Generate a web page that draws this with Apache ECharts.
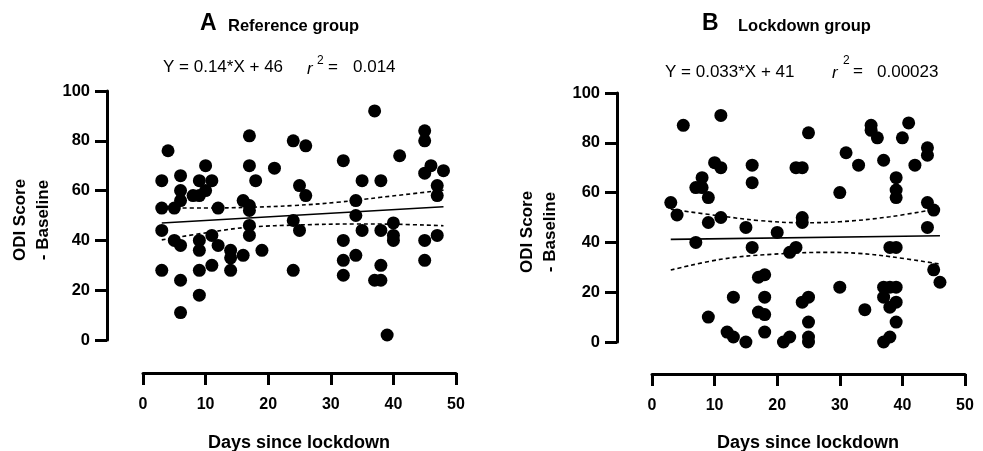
<!DOCTYPE html>
<html>
<head>
<meta charset="utf-8">
<script src="https://cdn.jsdelivr.net/npm/echarts@6/dist/echarts.min.js"></script>
<style>
html,body{margin:0;padding:0;background:#fff;}
#c{width:983px;height:451px;}
</style>
</head>
<body>
<div id="c"></div>
<script>
// ---- Data ----
var xTicks = [0, 10, 20, 30, 40, 50];
var yTicks = [0, 20, 40, 60, 80, 100];

var refDays = [4,3,6,10,9,11,6,8,9,10,6,3,5,12,17,17,18,21,16,17,17,24,26,25,26,24,32,35,34,34,37,38,41,45,45,46,45,48,47,47,40,3,5,6,9,9,11,12,14,14,14,16,19,17,17,3,6,9,11,9,6,25,24,32,32,32,34,35,38,38,37,38,40,40,39,45,45,47];
var refODI  = [76,64,66,70,64,64,60,58,58,60,56,53,53,53,82,70,64,69,56,54,52,80,78,62,58,48,72,64,56,50,92,64,74,84,80,70,67,68,62,58,47,44,40,38,40,36,42,38,36,33,28,34,36,46,42,28,24,28,30,18,11,44,28,40,32,26,34,44,44,30,24,24,42,40,2,40,32,42];

var lockDays = [5,11,25,35,35,36,41,40,44,44,31,33,37,42,39,39,39,30,10,11,16,16,23,24,8,7,8,9,3,4,11,24,24,44,45,9,15,20,7,16,22,23,38,39,44,45,46,17,18,30,37,38,39,37,39,38,34,39,37,38,13,18,17,18,9,12,13,15,18,21,22,24,25,25,25,25];
var lockODI  = [87,91,84,87,85,82,88,82,78,75,76,71,73,71,66,61,58,60,72,70,71,64,70,70,66,62,62,58,56,51,50,50,48,56,53,48,46,44,40,38,36,38,38,38,46,29,24,26,27,22,22,22,22,18,16,14,13,8,0,2,18,18,12,11,10,4,2,0,4,0,2,16,18,8,2,0];

// fitted line and 95% bands [x, y]
var refFit   = [[3,47],[48,53.5]];
var refUpper = [[3,53],[10,53],[17,53.3],[24,54],[31,55.3],[38,57.3],[48,60.2]];
var refLower = [[3,40.2],[11,43.4],[17,45.3],[25,46.2],[34,46.6],[40,46.5],[48,45.9]];

var lockFit   = [[3,41.2],[46,42.7]];
var lockUpper = [[3,53.3],[11,50.6],[17,48.8],[24,47.9],[30,48.3],[38,50.3],[46,53.7]];
var lockLower = [[3,28.9],[11,33.2],[19,35.2],[28,36],[33,35.6],[38,34.3],[46,31.3]];

var titles = ['Reference group', 'Lockdown group'];
var letters = ['A', 'B'];
var eqs = ['Y = 0.14*X + 46', 'Y = 0.033*X + 41'];
var r2s = ['0.014', '0.00023'];
var xName = 'Days since lockdown';
var yName = 'ODI Score\n- Baseline';

// ---- Build ----
function pairs(xs, ys){ var o=[]; for (var i=0;i<xs.length;i++) o.push([xs[i], ys[i]]); return o; }
var FF = '"Liberation Sans", Arial, Helvetica, sans-serif';

function xAx(gi, off){
  return {gridIndex:gi, type:'value', min:xTicks[0], max:xTicks[xTicks.length-1], interval:10, offset:off,
    axisLine:{show:true, onZero:false, lineStyle:{color:'#000', width:3}},
    axisTick:{show:true, length:12, lineStyle:{color:'#000', width:3}},
    axisLabel:{color:'#000', fontFamily:FF, fontWeight:'bold', fontSize:16, margin:24},
    splitLine:{show:false}};
}
function yAx(gi, off){
  return {gridIndex:gi, type:'value', min:yTicks[0], max:yTicks[yTicks.length-1], interval:20, offset:off,
    axisLine:{show:true, onZero:false, lineStyle:{color:'#000', width:3}},
    axisTick:{show:true, length:12, lineStyle:{color:'#000', width:3}},
    axisLabel:{color:'#000', fontFamily:FF, fontWeight:'bold', fontSize:16.5, margin:17},
    splitLine:{show:false}};
}
function lineS(gi, data, dashed){
  return {type:'line', xAxisIndex:gi, yAxisIndex:gi, data:data, symbol:'none', smooth:dashed?0.4:false, z:1,
    lineStyle:{color:'#000', width:1.6, type: dashed?[4,3]:'solid'}, silent:true, animation:false};
}
function scat(gi, data){
  return {type:'scatter', xAxisIndex:gi, yAxisIndex:gi, data:data, symbol:'circle', symbolSize:13, z:3,
    itemStyle:{color:'#000', opacity:1}, animation:false};
}
function txt(x, y, text, font, align, extra){
  var e = {type:'text', x:x, y:y, style:{text:text, font:font, fill:'#000', textAlign:align||'left', textVerticalAlign:'middle'}};
  if (extra) for (var k in extra) e[k]=extra[k];
  return e;
}

var graphic = [
  txt(200, 24, letters[0], 'bold 23px '+FF),
  txt(228, 26, titles[0], 'bold 16.5px '+FF),
  txt(163, 67, eqs[0], '17px '+FF),
  txt(307, 69, 'r', 'italic 17px '+FF),
  txt(317, 61, '2', '12px '+FF),
  txt(328, 67, '=', '17px '+FF),
  txt(353, 67, r2s[0], '17px '+FF),
  txt(299, 443, xName, 'bold 18px '+FF, 'center'),
  {type:'text', x:31.5, y:220, rotation:Math.PI/2, style:{text:yName, font:'bold 17px '+FF, fill:'#000', textAlign:'center', textVerticalAlign:'middle', lineHeight:23}},

  txt(702, 24, letters[1], 'bold 23px '+FF),
  txt(738, 26, titles[1], 'bold 16.5px '+FF),
  txt(665, 72, eqs[1], '17px '+FF),
  txt(832, 73, 'r', 'italic 17px '+FF),
  txt(843, 61, '2', '12px '+FF),
  txt(853, 71, '=', '17px '+FF),
  txt(877, 72, r2s[1], '17px '+FF),
  txt(808, 443, xName, 'bold 18px '+FF, 'center'),
  {type:'text', x:538.5, y:232, rotation:Math.PI/2, style:{text:yName, font:'bold 17px '+FF, fill:'#000', textAlign:'center', textVerticalAlign:'middle', lineHeight:23}}
];

var option = {
  backgroundColor:'#fff',
  animation:false,
  grid:[
    {left:143, top:91, width:313, height:249, containLabel:false},
    {left:652, top:93, width:313, height:249, containLabel:false}
  ],
  xAxis:[xAx(0,33), xAx(1,32)],
  yAxis:[yAx(0,36), yAx(1,35)],
  series:[
    lineS(0, refFit, false), lineS(0, refUpper, true), lineS(0, refLower, true),
    scat(0, pairs(refDays, refODI)),
    lineS(1, lockFit, false), lineS(1, lockUpper, true), lineS(1, lockLower, true),
    scat(1, pairs(lockDays, lockODI))
  ],
  graphic:graphic
};
var chart = echarts.init(document.getElementById('c'), null, {renderer:'canvas'});
chart.setOption(option);
</script>
</body>
</html>
